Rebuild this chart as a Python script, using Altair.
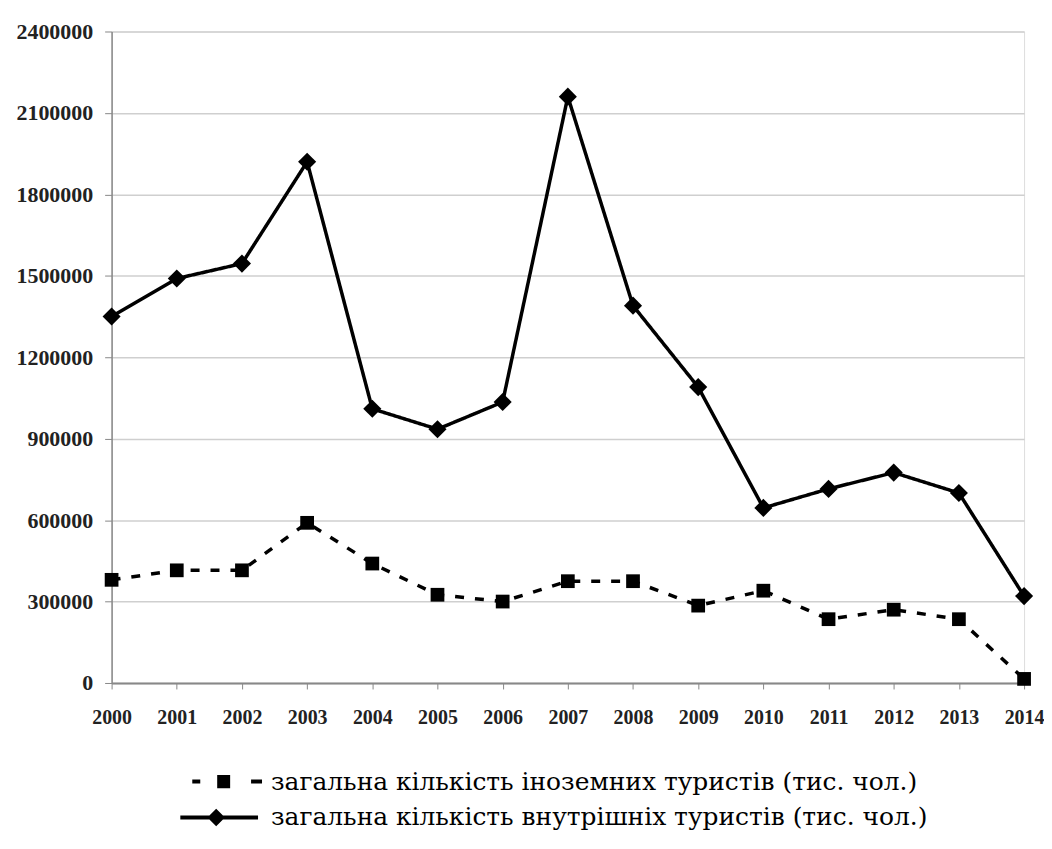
import altair as alt
import pandas as pd

years = list(range(2000, 2015))
foreign = [380000, 415000, 415000, 590000, 440000, 325000, 300000, 375000,
           375000, 285000, 340000, 235000, 270000, 235000, 15000]
domestic = [1350000, 1490000, 1545000, 1920000, 1010000, 935000, 1035000, 2160000,
            1390000, 1090000, 645000, 715000, 775000, 700000, 320000]
y_ticks = [0, 300000, 600000, 900000, 1200000, 1500000, 1800000, 2100000, 2400000]

s_foreign = "загальна кількість іноземних туристів (тис. чол.)"
s_domestic = "загальна кількість внутрішніх туристів (тис. чол.)"
series_order = [s_foreign, s_domestic]

df = pd.concat([
    pd.DataFrame({"year": years, "value": foreign, "series": s_foreign}),
    pd.DataFrame({"year": years, "value": domestic, "series": s_domestic}),
])

# legend symbol paths (unit = 15 px)
path_foreign = ("M-1.867,-0.133H-1.333V0.133H-1.867Z "
                "M-0.2,-0.44H0.667V0.44H-0.2Z "
                "M2.067,-0.133H2.8V0.133H2.067Z")
path_domestic = ("M-2.667,-0.133H2.533V0.133H-2.667Z "
                 "M-0.267,-0.587L0.32,0L-0.267,0.587L-0.853,0Z")

SERIF = "Liberation Serif"
LEGEND_FONT = "DejaVu Serif"

x_enc = alt.X("year:Q",
              scale=alt.Scale(domain=[2000, 2014], nice=False, zero=False),
              axis=alt.Axis(values=years, format="d", title=None, grid=False,
                            labelFont=SERIF, labelFontWeight="bold",
                            labelFontSize=20, labelColor="#222222",
                            labelFlush=False, labelOverlap=False,
                            tickSize=6, tickColor="#888888",
                            domainColor="#888888", domainWidth=2,
                            labelPadding=19))
y_enc = alt.Y("value:Q",
              scale=alt.Scale(domain=[0, 2400000], nice=False),
              axis=alt.Axis(values=y_ticks, format="d", title=None,
                            labelFont=SERIF, labelFontWeight="bold",
                            labelFontSize=22, labelColor="#222222",
                            labelOverlap=False,
                            tickSize=7, tickColor="#888888",
                            domainColor="#888888", domainWidth=1.5,
                            labelPadding=12,
                            gridColor="#cfcfcf", gridWidth=1.5))

base = alt.Chart(df).encode(x=x_enc, y=y_enc)

lines = base.mark_line(color="black", strokeWidth=3.5).encode(
    strokeDash=alt.StrokeDash("series:N",
                              scale=alt.Scale(domain=series_order,
                                              range=[[9, 11], [1, 0]]),
                              legend=None),
    detail="series:N",
)

legend_common = dict(
    title=None, orient="none", direction="vertical", padding=0,
    symbolSize=900, symbolOffset=25,
    labelFont=LEGEND_FONT, labelFontSize=25, labelFontWeight="normal",
    labelColor="black", labelLimit=0, labelOffset=36,
    symbolFillColor="black", symbolStrokeColor="black",
    symbolStrokeWidth=0, symbolOpacity=1,
)

points_foreign = base.transform_filter(
    alt.datum.series == s_foreign
).mark_point(filled=True, opacity=1, shape="square", size=190).encode(
    color=alt.Color("series:N",
                    scale=alt.Scale(domain=[s_foreign], range=["black"]),
                    legend=alt.Legend(symbolType=path_foreign,
                                      legendX=69, legendY=738,
                                      **legend_common)),
)

points_domestic = base.transform_filter(
    alt.datum.series == s_domestic
).mark_point(filled=True, opacity=1, shape="diamond", size=330).encode(
    fill=alt.Fill("series:N",
                  scale=alt.Scale(domain=[s_domestic], range=["black"]),
                  legend=alt.Legend(symbolType=path_domestic,
                                    legendX=69, legendY=774,
                                    **legend_common)),
)

chart = (lines + points_foreign + points_domestic).properties(
    width=916, height=654,
    padding={"left": 8, "top": 11, "right": 0, "bottom": 0},
).resolve_scale(color="independent", fill="independent"
).configure_view(stroke=None
).configure_legend(labelFont=LEGEND_FONT, labelFontSize=25, labelColor="black"
).configure(background="white", font=SERIF)

chart.save("out.html", embed_options={"renderer": "svg", "actions": False})
